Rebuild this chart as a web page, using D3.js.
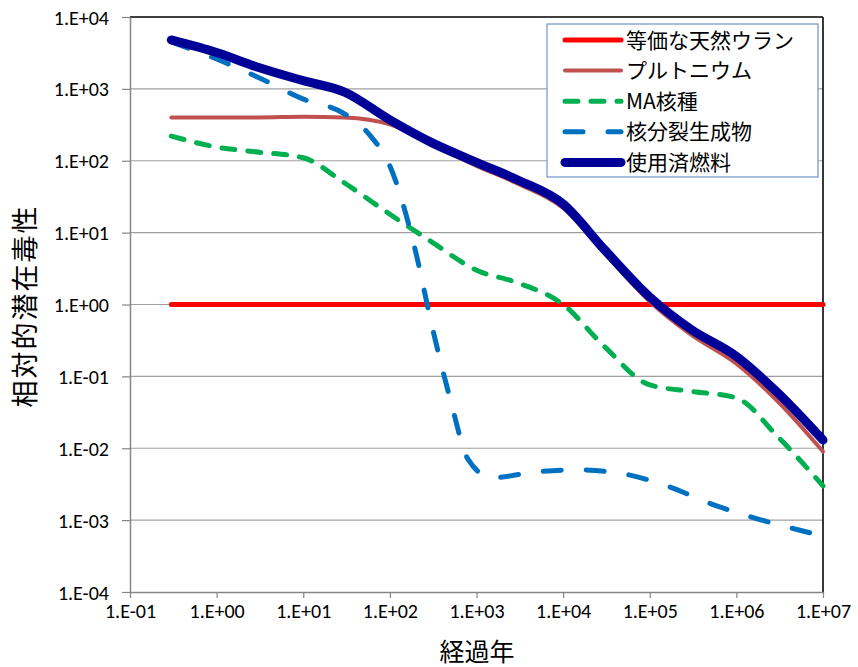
<!DOCTYPE html>
<html>
<head>
<meta charset="utf-8">
<script src="https://cdn.jsdelivr.net/npm/d3@7"></script>
<style>
  body { margin: 0; background: #fff; }
  .jp { font-family: "Noto Sans CJK JP", sans-serif; }
</style>
</head>
<body>
<svg id="chart" width="858" height="667"></svg>
<script>
// time grid (years) shared by most series
var years = [0.3, 1, 3, 10, 30, 100, 300, 1000, 3000, 1e4, 3e4, 1e5, 3e5, 1e6, 3e6, 1e7];
var uranium   = [1, 1, 1, 1, 1, 1, 1, 1, 1, 1, 1, 1, 1, 1, 1, 1];
var plutonium = [400, 400, 400, 410, 400, 320, 170, 85, 48, 22, 5.2, 1.1, 0.38, 0.15, 0.045, 0.009];
var minorAct  = [220, 155, 132, 110, 49, 18, 7.5, 3.0, 2.0, 1.0, 0.26, 0.076, 0.062, 0.05, 0.0145, 0.003];
var spentFuel = [4800, 3200, 2000, 1300, 900, 370, 180, 95, 54, 25, 5.8, 1.27, 0.45, 0.19, 0.059, 0.013];
// fission products have their own time points (steep drop)
var fpYears   = [0.3, 1, 3, 10, 30, 60, 100, 200, 300, 500, 800, 1500, 5000, 15000, 50000, 170000, 500000, 1.5e6, 5e6, 1e7];
var fission   = [4500, 2600, 1450, 720, 450, 220, 85, 5.2, 0.56, 0.047, 0.007, 0.0039, 0.0047, 0.005, 0.0044, 0.0029, 0.0017, 0.0011, 0.00074, 0.0006];

var xTicks = [1e-1, 1e0, 1e1, 1e2, 1e3, 1e4, 1e5, 1e6, 1e7];
var yTicks = [1e4, 1e3, 1e2, 1e1, 1e0, 1e-1, 1e-2, 1e-3, 1e-4];
var seriesNames = ["等価な天然ウラン", "プルトニウム", "MA核種", "核分裂生成物", "使用済燃料"];

function fmt(v) {
  var e = Math.round(Math.log10(v));
  return "1.E" + (e < 0 ? "-" : "+") + (Math.abs(e) < 10 ? "0" : "") + Math.abs(e);
}

var svg = d3.select("#chart");
var plotL = 130, plotR = 823, plotT = 17, plotB = 592;

var x = d3.scaleLog().domain([1e-1, 1e7]).range([plotL, plotR]);
var y = d3.scaleLog().domain([1e-4, 1e4]).range([plotB, plotT]);

// gridlines
svg.append("g").selectAll("line")
  .data(yTicks.slice(1, -1)).enter().append("line")
  .attr("x1", plotL).attr("x2", plotR)
  .attr("y1", function(d){ return y(d); })
  .attr("y2", function(d){ return y(d); })
  .attr("stroke", "#a0a0a0").attr("stroke-width", 1.2);

// frame: top and right dark
svg.append("line").attr("x1", plotL).attr("x2", plotR).attr("y1", plotT).attr("y2", plotT)
  .attr("stroke", "#000").attr("stroke-width", 1.5);
svg.append("line").attr("x1", plotR).attr("x2", plotR).attr("y1", plotT).attr("y2", plotB)
  .attr("stroke", "#222").attr("stroke-width", 1.8);

// axes
var xAxis = d3.axisBottom(x).tickValues(xTicks).tickFormat(fmt).tickSizeInner(6).tickSizeOuter(0);
var yAxis = d3.axisLeft(y).tickValues(yTicks).tickFormat(fmt).tickSizeInner(8).tickSizeOuter(0);

var gx = svg.append("g").attr("transform", "translate(0," + plotB + ")").call(xAxis);
var gy = svg.append("g").attr("transform", "translate(" + plotL + ",0)").call(yAxis);
[gx, gy].forEach(function(g){
  g.attr("font-size", null).attr("font-family", null);
  g.select(".domain").attr("stroke", "#868686").attr("stroke-width", 1.5);
  g.selectAll(".tick line").attr("stroke", "#868686").attr("stroke-width", 1.2);
  g.selectAll(".tick text").attr("fill", "#000")
    .style("font-family", "Carlito, 'Liberation Sans', sans-serif")
    .style("font-size", "20px");
});
gx.selectAll(".tick text").attr("y", 12);
gy.selectAll(".tick text").attr("x", -21).attr("dy", "0.35em");

// series
var line = d3.line()
  .x(function(d){ return x(d[0]); })
  .y(function(d){ return y(d[1]); })
  .curve(d3.curveMonotoneX);

function pairs(xs, ys) { return xs.map(function(v, i){ return [v, ys[i]]; }); }

var styles = [
  {data: pairs(years, uranium),   color: "#ff0000", width: 5,   dash: null},
  {data: pairs(years, plutonium), color: "#c0504d", width: 4,   dash: null},
  {data: pairs(years, minorAct),  color: "#00b050", width: 5,   dash: "13,13"},
  {data: pairs(fpYears, fission), color: "#0070c0", width: 5,   dash: "18,25"},
  {data: pairs(years, spentFuel), color: "#000096", width: 9,   dash: null}
];

svg.append("g").selectAll("path")
  .data(styles).enter().append("path")
  .attr("d", function(d){ return line(d.data); })
  .attr("fill", "none")
  .attr("stroke", function(d){ return d.color; })
  .attr("stroke-width", function(d){ return d.width; })
  .attr("stroke-dasharray", function(d){ return d.dash; })
  .attr("stroke-linecap", "round")
  .attr("stroke-linejoin", "round");

// legend
var legend = svg.append("g");
legend.append("rect")
  .attr("x", 547).attr("y", 24).attr("width", 271).attr("height", 153)
  .attr("fill", "#fff").attr("stroke", "#6f93c7").attr("stroke-width", 1.2);

var items = legend.selectAll(".item")
  .data(styles).enter().append("g")
  .attr("class", "item")
  .attr("transform", function(d, i){ return "translate(0," + (40 + i * 30.6) + ")"; });

items.append("line")
  .attr("x1", 565).attr("x2", 621).attr("y1", 0).attr("y2", 0)
  .attr("stroke", function(d){ return d.color; })
  .attr("stroke-width", function(d){ return d.width; })
  .attr("stroke-dasharray", function(d){ return d.dash; })
  .attr("stroke-linecap", "round");

items.append("text")
  .attr("class", "jp")
  .attr("x", 626).attr("y", 0).attr("dy", "0.36em")
  .style("font-size", "21px")
  .text(function(d, i){ return seriesNames[i]; });

// axis titles
svg.append("text").attr("class", "jp")
  .attr("x", 477).attr("y", 652).attr("dy", "0.36em")
  .attr("text-anchor", "middle")
  .style("font-size", "25px")
  .text("経過年");

svg.append("text").attr("class", "jp")
  .attr("transform", "translate(25,306) rotate(-90)")
  .attr("text-anchor", "middle").attr("dy", "0.36em")
  .style("font-size", "27px").style("letter-spacing", "2px")
  .text("相対的潜在毒性");
</script>
</body>
</html>
